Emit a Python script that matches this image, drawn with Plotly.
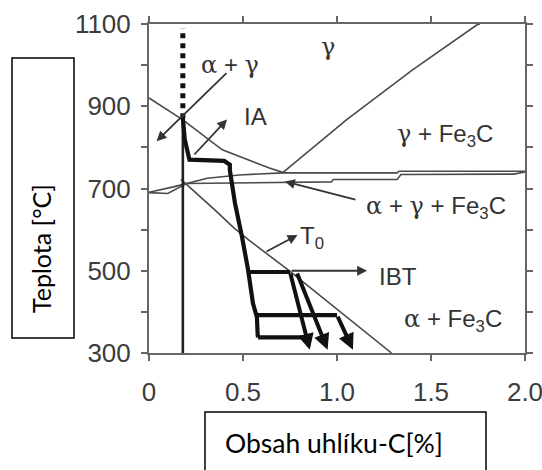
import plotly.graph_objects as go

# ---- axes ----
c_ticks = [0, 0.5, 1.0, 1.5, 2.0]
c_tick_text = ["0", "0.5", "1.0", "1.5", "2.0"]
t_ticks = [300, 500, 700, 900, 1100]

# ---- phase boundaries (wt.% C, °C) ----
a3_c = [0.0, 0.18, 0.39, 0.64, 0.72]
a3_t = [920, 867, 794, 750, 738]
acm_c = [0.71, 1.05, 1.40, 1.745, 1.76]
acm_t = [738, 867, 988, 1098, 1100]
ae1_upper_c = [0.0, 0.13, 0.31, 0.48, 0.71, 1.32, 1.33, 2.0]
ae1_upper_t = [691, 704, 725, 733, 738, 738, 742, 742]
ae1_lower_c = [0.0, 0.10, 0.20, 0.97, 0.98, 1.32, 1.34, 1.94, 2.0]
ae1_lower_t = [690, 688, 712, 716, 722, 722, 734, 735, 740]
t0_c = [0.17, 0.25, 0.35, 0.45, 0.53, 0.74, 1.02, 1.29]
t0_t = [722, 690, 648, 605, 575, 502, 398, 300]

# ---- steel composition and heat-treatment path ----
alloy_c = [0.18, 0.18]
alloy_t = [300, 880]
soak_c = [0.18, 0.18]
soak_t = [871, 1090]
path_c = [0.18, 0.19, 0.205, 0.215, 0.40, 0.43, 0.43, 0.457, 0.495, 0.527,
          0.553, 0.574, 0.578, 0.58]
path_t = [871, 820, 790, 770, 767, 758, 745, 665, 582, 502, 421, 387, 345, 338]

# isothermal bainitic holds
hold_t = [497, 392, 338]
hold_start_c = [0.528, 0.568, 0.58]
hold_end_c = [0.75, 1.0, 0.838]

# carbon enrichment of austenite after the holds (start -> end)
enrich_start_c = [0.75, 0.785, 1.0]
enrich_start_t = [497, 497, 392]
enrich_end_c = [0.855, 0.95, 1.085]
enrich_end_t = [308, 308, 308]

GREY = "#4a4a4a"
INK = "#111111"
SANS = "Liberation Sans"


def greek(ch):
    return f"<span style='font-family:DejaVu Serif'>{ch}</span>"


fig = go.Figure()


def thin(cx, ty, width=1.6, color=GREY):
    fig.add_trace(go.Scatter(x=cx, y=ty, mode="lines",
                             line=dict(color=color, width=width),
                             hoverinfo="skip", showlegend=False))


thin(a3_c, a3_t)
thin(acm_c, acm_t)
thin(ae1_upper_c, ae1_upper_t)
thin(ae1_lower_c, ae1_lower_t)
thin(t0_c, t0_t)
thin(alloy_c, alloy_t, width=2.6, color="#222222")

fig.add_trace(go.Scatter(x=soak_c, y=soak_t, mode="lines",
                         line=dict(color=INK, width=5, dash="dot"),
                         hoverinfo="skip", showlegend=False))
fig.add_trace(go.Scatter(x=path_c, y=path_t, mode="lines",
                         line=dict(color=INK, width=4.2),
                         hoverinfo="skip", showlegend=False))
for c0, c1, t in zip(hold_start_c, hold_end_c, hold_t):
    fig.add_trace(go.Scatter(x=[c0, c1], y=[t, t], mode="lines",
                             line=dict(color=INK, width=4.2),
                             hoverinfo="skip", showlegend=False))

for c0, t0, c1, t1 in zip(enrich_start_c, enrich_start_t, enrich_end_c, enrich_end_t):
    fig.add_annotation(x=c1, y=t1, ax=c0, ay=t0, xref="x", yref="y",
                       axref="x", ayref="y", text="", showarrow=True,
                       arrowhead=2, arrowsize=0.8, arrowwidth=4,
                       arrowcolor=INK)

# thin pointer arrows (tail -> head)
pointers = [
    (0.42, 984, 0.04, 815),
    (0.234, 779, 0.415, 868),
    (1.106, 672, 0.723, 717),
    (0.617, 545, 0.79, 587),
    (0.75, 500, 1.16, 500),
]
for c0, t0, c1, t1 in pointers:
    fig.add_annotation(x=c1, y=t1, ax=c0, ay=t0, xref="x", yref="y",
                       axref="x", ayref="y", text="", showarrow=True,
                       arrowhead=2, arrowsize=1.1, arrowwidth=1.8,
                       arrowcolor="#333333")

# region and marker labels
labels = [
    (0.43, 1000, f"{greek('α')} + {greek('γ')}"),
    (0.952, 1044, greek("γ")),
    (0.564, 874, "IA"),
    (1.574, 830, f"{greek('γ')} + Fe<sub>3</sub>C"),
    (1.527, 653, f"{greek('α')} + {greek('γ')} + Fe<sub>3</sub>C"),
    (0.867, 582, "T<sub>0</sub>"),
    (1.324, 485, "IBT"),
    (1.617, 380, f"{greek('α')} + Fe<sub>3</sub>C"),
]
for cx, ty, txt in labels:
    fig.add_annotation(x=cx, y=ty, xref="x", yref="y", text=txt,
                       showarrow=False, xanchor="center", yanchor="middle",
                       font=dict(family=SANS, size=24, color="#333333"))

# boxed axis titles
fig.add_shape(type="rect", xref="paper", yref="paper",
              x0=-0.3644, x1=-0.1995, y0=0.0456, y1=0.8967,
              line=dict(color="black", width=1.5), fillcolor="white")
fig.add_shape(type="rect", xref="paper", yref="paper",
              x0=0.1489, x1=0.8963, y0=-0.3617, y1=-0.1793,
              line=dict(color="black", width=1.5), fillcolor="white")
fig.add_annotation(x=-0.2872, y=0.3161, xref="paper", yref="paper",
                   text="Teplota [°C]", textangle=-90, showarrow=False,
                   xanchor="center", yanchor="middle",
                   font=dict(family="Lato", size=25, color="black"))
fig.add_annotation(x=0.492, y=-0.2735, xref="paper", yref="paper",
                   text="Obsah uhlíku-C[%]", showarrow=False,
                   xanchor="center", yanchor="middle",
                   font=dict(family="Lato", size=26.5, color="black"))

axis_common = dict(showline=True, linecolor="#666666", linewidth=2,
                   mirror="ticks", ticks="outside", ticklen=6, tickwidth=2,
                   tickcolor="#666666", showgrid=False, zeroline=False,
                   automargin=False, ticklabeloverflow="allow",
                   tickfont=dict(family=SANS, size=26, color="#3c3c3c"))

fig.update_xaxes(range=[0, 2.0], tickvals=c_ticks, ticktext=c_tick_text,
                 ticklabelstandoff=9, **axis_common)
fig.update_yaxes(range=[300, 1100], tickvals=t_ticks, ticklabelstandoff=5,
                 minor=dict(dtick=100, ticks="outside", ticklen=6,
                            tickwidth=2, tickcolor="#666666"),
                 **axis_common)

fig.update_layout(width=542, height=470,
                  margin=dict(l=149, r=17, t=24, b=117, autoexpand=False),
                  paper_bgcolor="white", plot_bgcolor="white",
                  showlegend=False)

fig.write_html("out.html")
